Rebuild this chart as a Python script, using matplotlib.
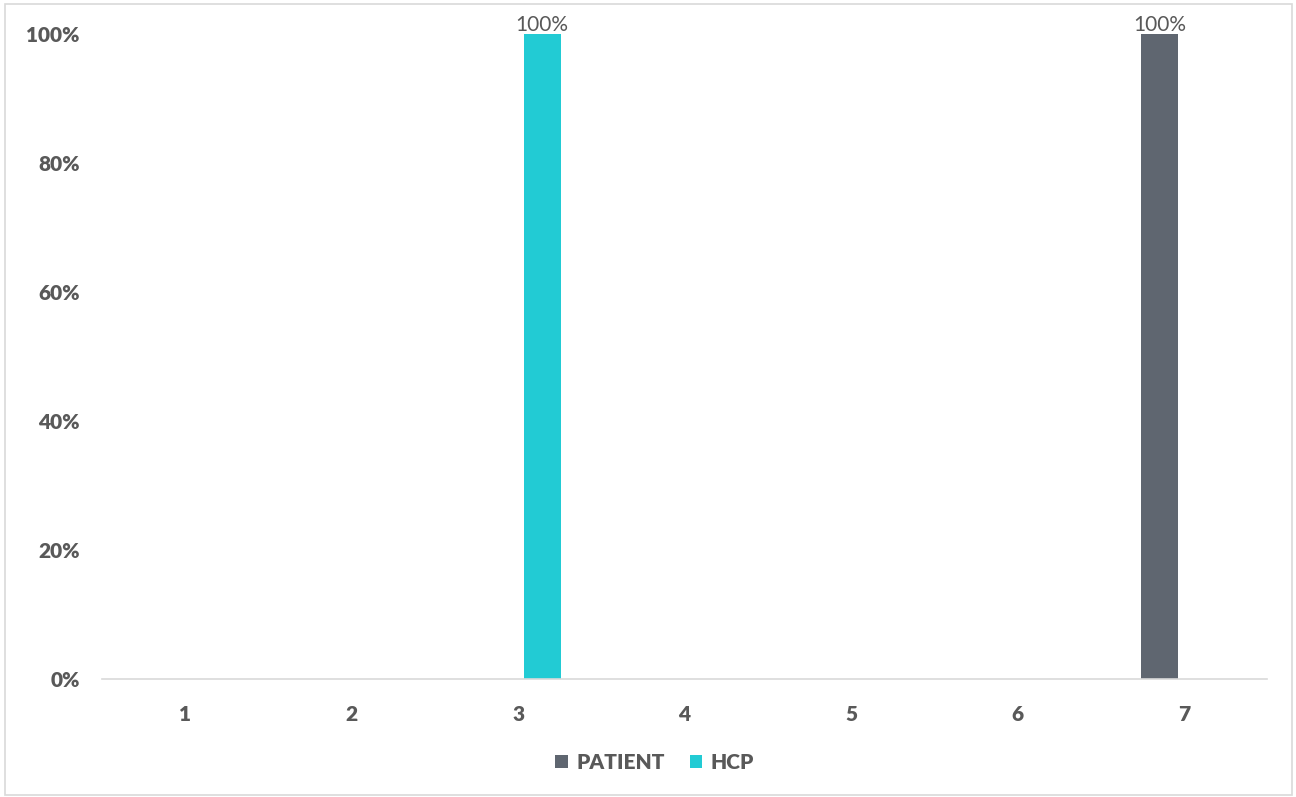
import matplotlib.pyplot as plt
import matplotlib.patches as patches
import numpy as np

# data ------------------------------------------------------------ #
categories = ['1', '2', '3', '4', '5', '6', '7']
patient = [0, 0, 0, 0, 0, 0, 1.0]
hcp = [0, 0, 1.0, 0, 0, 0, 0]
y_ticks = [0, 0.2, 0.4, 0.6, 0.8, 1.0]
y_labels = ['0%', '20%', '40%', '60%', '80%', '100%']

plt.rcParams['font.family'] = ['Lato', 'DejaVu Sans']

text_color = '#595959'
width = 0.222
offset = 0.144

figure = plt.figure(figsize=(12.96, 7.97), dpi=100)
axis = figure.add_axes([0.0787, 0.148, 0.899, 0.8093])

# outer border of chart area
figure.patches.append(patches.Rectangle((0.004, 0.003), 0.993, 0.992, transform=figure.transFigure,
                                        fill=False, edgecolor='#D9D9D9', linewidth=1.2))

ar = np.arange(len(categories))
bar_p = axis.bar(ar - offset, patient, width, color='#5F6670', label='PATIENT')
bar_h = axis.bar(ar + offset, hcp, width, color='#22CBD4', label='HCP')

# axis set up
axis.set_xlim(-0.5, len(categories) - 0.5)
axis.set_ylim(0, 1)
axis.set_xticks(ar)
axis.set_xticklabels(categories)
axis.set_yticks(y_ticks)
axis.set_yticklabels(y_labels)
for lab in axis.get_xticklabels() + axis.get_yticklabels():
    lab.set_fontweight('heavy')
    lab.set_color(text_color)
    lab.set_fontsize(15)
axis.tick_params(axis='both', length=0)
axis.tick_params(axis='y', pad=16)
axis.tick_params(axis='x', pad=19)
for side in ['top', 'right', 'left']:
    axis.spines[side].set_visible(False)
axis.spines['bottom'].set_color('#D9D9D9')
axis.spines['bottom'].set_linewidth(1.2)


# value labels on non-zero bars
def autolabel(rects):
    for rect in rects:
        height = rect.get_height()
        if height > 0:
            axis.annotate('{:.0%}'.format(height),
                          xy=(rect.get_x() + rect.get_width() / 2, height),
                          xytext=(0, -1), textcoords='offset points',
                          ha='center', va='bottom', fontsize=15, color=text_color,
                          annotation_clip=False)


autolabel(bar_p)
autolabel(bar_h)

leg = figure.legend(handles=[bar_p, bar_h], loc='center', bbox_to_anchor=(0.505, 0.043), ncol=2,
                    frameon=False, handlelength=0.6, handleheight=0.6, handletextpad=0.4,
                    columnspacing=1.2, prop={'weight': 'heavy', 'size': 15})
for t in leg.get_texts():
    t.set_color(text_color)

plt.savefig('out.png')
